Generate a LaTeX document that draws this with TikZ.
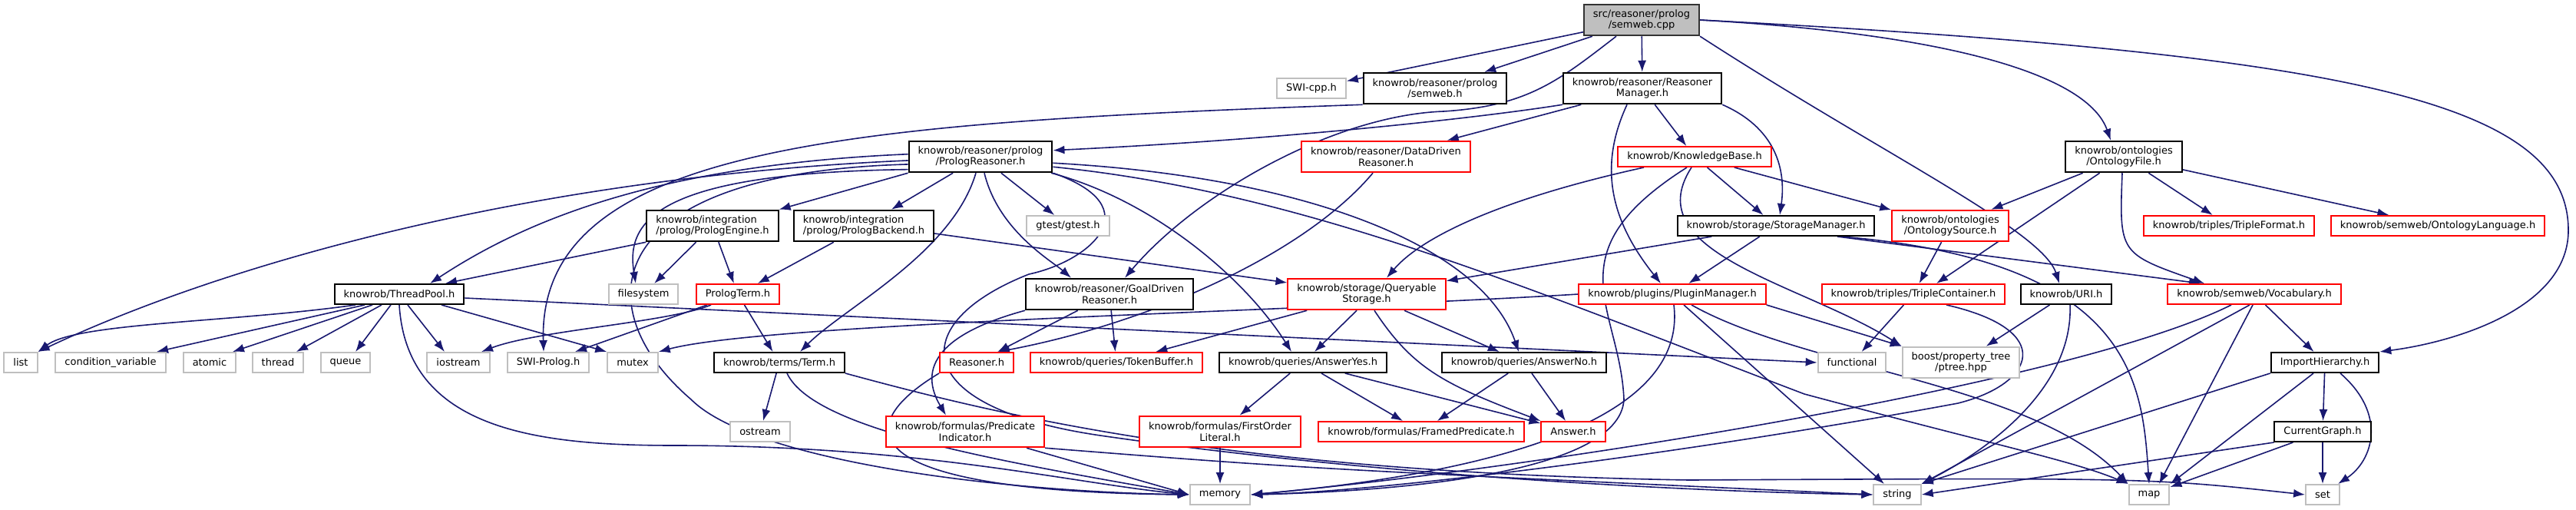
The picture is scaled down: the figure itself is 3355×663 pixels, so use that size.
\documentclass[tikz,border=0pt]{standalone}
\usepackage{fontspec}
\setmainfont{DejaVu Sans}
\usetikzlibrary{arrows.meta,backgrounds}
\definecolor{edgeblue}{HTML}{191970}
\definecolor{sysline}{HTML}{BFBFBF}
\definecolor{redline}{HTML}{FF0000}
\definecolor{rootfill}{HTML}{BFBFBF}

\begin{document}
\begin{tikzpicture}[x=0.1mm,y=-0.1mm,
      hdr/.style={draw=black,fill=white,line width=0.2mm,inner xsep=1.2mm,inner ysep=0.2mm,minimum height=2.6mm,font=\fontsize{3.7}{4.1}\selectfont,align=center},
      hdrred/.style={hdr,draw=redline},
      sys/.style={hdr,draw=sysline},
      rootfile/.style={hdr,fill=rootfill,draw=black!80},
      two/.style={minimum height=4.05mm},
      dep/.style={-{Latex[length=1.5mm,width=1.1mm]},line width=0.16mm,color=edgeblue}
    ]
      \useasboundingbox (0,0) rectangle (3355,663);
      \node[rootfile,two] (root) at (2138,26) {src/reasoner/prolog\\/semweb.cpp};
      \node[sys] (swicpp) at (1708,115) {SWI-cpp.h};
      \node[hdr,two] (semwebh) at (1869,115) {knowrob/reasoner/prolog\\/semweb.h};
      \node[hdr,two] (rmgr) at (2139,115) {knowrob/reasoner/Reasoner\\Manager.h};
      \node[hdr,two] (preason) at (1277,204) {knowrob/reasoner/prolog\\/PrologReasoner.h};
      \node[hdrred,two] (ddr) at (1805,204) {knowrob/reasoner/DataDriven\\Reasoner.h};
      \node[hdrred] (kb) at (2207,204) {knowrob/KnowledgeBase.h};
      \node[hdr,two] (ofile) at (2766,204) {knowrob/ontologies\\/OntologyFile.h};
      \node[hdr,two,align=left] (pengine) at (928,294) {knowrob/integration\\/prolog/PrologEngine.h};
      \node[hdr,two,align=left] (pbackend) at (1125,294) {knowrob/integration\\/prolog/PrologBackend.h};
      \node[sys] (gtest) at (1391,294) {gtest/gtest.h};
      \node[hdr] (smgr) at (2313,294) {knowrob/storage/StorageManager.h};
      \node[hdrred,two] (osource) at (2540,294) {knowrob/ontologies\\/OntologySource.h};
      \node[hdrred] (tformat) at (2903,294) {knowrob/triples/TripleFormat.h};
      \node[hdrred] (olang) at (3175,294) {knowrob/semweb/OntologyLanguage.h};
      \node[hdr] (threadpool) at (520,383) {knowrob/ThreadPool.h};
      \node[sys] (filesystem) at (838,383) {filesystem};
      \node[hdrred] (pterm) at (961,383) {PrologTerm.h};
      \node[hdr,two] (goal) at (1445,383) {knowrob/reasoner/GoalDriven\\Reasoner.h};
      \node[hdrred,two] (qstorage) at (1780,383) {knowrob/storage/Queryable\\Storage.h};
      \node[hdrred] (pmgr) at (2178,383) {knowrob/plugins/PluginManager.h};
      \node[hdrred] (tcont) at (2492,383) {knowrob/triples/TripleContainer.h};
      \node[hdr] (uri) at (2691,383) {knowrob/URI.h};
      \node[hdrred] (vocab) at (2936,383) {knowrob/semweb/Vocabulary.h};
      \node[sys] (list) at (27,472) {list};
      \node[sys] (condvar) at (144,472) {condition\_variable};
      \node[sys] (atomic) at (273,472) {atomic};
      \node[sys] (thread) at (362,472) {thread};
      \node[sys] (queue) at (450,472) {queue};
      \node[sys] (iostream) at (597,472) {iostream};
      \node[sys] (swipl) at (714,472) {SWI-Prolog.h};
      \node[sys] (mutex) at (824,472) {mutex};
      \node[hdr] (term) at (1015,472) {knowrob/terms/Term.h};
      \node[hdrred] (reasonerh) at (1272,472) {Reasoner.h};
      \node[hdrred] (tokbuf) at (1454,472) {knowrob/queries/TokenBuffer.h};
      \node[hdr] (ansyes) at (1697,472) {knowrob/queries/AnswerYes.h};
      \node[hdr] (ansno) at (1985,472) {knowrob/queries/AnswerNo.h};
      \node[sys] (functional) at (2412,472) {functional};
      \node[sys,two] (boost) at (2554,472) {boost/property\_tree\\/ptree.hpp};
      \node[hdr] (imphier) at (3028,472) {ImportHierarchy.h};
      \node[sys] (ostream) at (990,562) {ostream};
      \node[hdrred,two] (predind) at (1257,562) {knowrob/formulas/Predicate\\Indicator.h};
      \node[hdrred,two] (folit) at (1589,562) {knowrob/formulas/FirstOrder\\Literal.h};
      \node[hdrred] (framed) at (1851,562) {knowrob/formulas/FramedPredicate.h};
      \node[hdrred] (answer) at (2049,562) {Answer.h};
      \node[hdr] (curgraph) at (3025,562) {CurrentGraph.h};
      \node[sys] (memory) at (1589,644) {memory};
      \node[sys] (string) at (2471,644) {string};
      \node[sys] (map) at (2799,644) {map};
      \node[sys] (set) at (3025,644) {set};
      \begin{scope}[on background layer]
      \draw[dep] (root) -- (swicpp);
      \draw[dep] (root) -- (semwebh);
      \draw[dep] (root) -- (rmgr);
      \draw[dep] ([xshift=-3.3mm]root.south) .. controls (2030,105) and (1990,138) .. (1880,145) .. controls (1740,150) and (1560,250) .. ([xshift=2mm]goal.north);
      \draw[dep] (root.south east) .. controls (2450,200) and (2660,300) .. ([xshift=-0.9mm]uri.north);
      \draw[dep] (root.east) .. controls (2550,45) and (2720,100) .. ([xshift=-1.7mm]ofile.north);
      \draw[dep] (root.east) .. controls (3050,70) and (3345,130) .. (3345,300) .. controls (3345,400) and (3200,445) .. (imphier.north east);
      \draw[dep] (semwebh.south west) .. controls (1100,160) and (700,190) .. ([xshift=-0.6mm]swipl.north);
      \draw[dep] (rmgr.south west) .. controls (1950,150) and (1700,180) .. (preason.5);
      \draw[dep] (rmgr) -- (ddr);
      \draw[dep] (rmgr) -- (kb);
      \draw[dep] (rmgr.south east) .. controls (2320,170) and (2325,230) .. ([xshift=0.5mm]smgr.north);
      \draw[dep] ([xshift=-2mm]rmgr.south) .. controls (2080,220) and (2100,290) .. ([xshift=-1.5mm]pmgr.north);
      \draw[dep] (preason.south west) -- (pengine.north east);
      \draw[dep] (preason) -- (pbackend);
      \draw[dep] (preason) -- (gtest);
      \draw[dep] ([xshift=0.5mm]preason.south) .. controls (1300,300) and (1370,340) .. ([xshift=-5mm]goal.north);
      \draw[dep] ([xshift=-0.6mm]preason.south) .. controls (1240,330) and (1100,400) .. ([xshift=2.7mm]term.north);
      \draw[dep] (preason.178) .. controls (850,215) and (680,290) .. ([xshift=4mm]threadpool.north);
      \draw[dep] (preason.183) .. controls (700,230) and (300,340) .. (list.north east);
      \draw[dep] (preason.186) .. controls (780,225) and (760,400) .. (900,520) .. controls (980,600) and (1300,640) .. (memory.west);
      \draw[dep] (preason.190) .. controls (850,225) and (815,290) .. ([xshift=-1mm]filesystem.north);
      \draw[dep] (preason.-13) .. controls (1500,260) and (1620,360) .. ([xshift=-1.5mm]ansyes.north);
      \draw[dep] (preason.-5) .. controls (1700,230) and (1930,320) .. ([xshift=-0.7mm]ansno.north);
      \draw[dep] (preason.-8) .. controls (1700,250) and (2000,380) .. (2350,513) .. controls (2600,580) and (2700,600) .. (map.north west);
      \draw[dep] (preason.south east) .. controls (1500,270) and (1420,340) .. (1340,357) .. controls (1180,420) and (1180,530) .. (1433,567) .. controls (1800,620) and (2200,640) .. (string.west);
      \draw[dep] (pengine.south west) -- ([xshift=6mm]threadpool.north);
      \draw[dep] (pengine) -- (filesystem);
      \draw[dep] (pengine) -- (pterm);
      \draw[dep] (pbackend) -- (pterm);
      \draw[dep] ([yshift=-1mm]pbackend.east) -- ([yshift=1.5mm]qstorage.west);
      \draw[dep] ([xshift=-1.7mm]ddr.south) .. controls (1700,330) and (1500,420) .. ([xshift=2.8mm]reasonerh.north);
      \draw[dep] ([xshift=-6.6mm]kb.south) .. controls (1950,260) and (1850,310) .. ([xshift=2.6mm]qstorage.north);
      \draw[dep] ([xshift=-1mm]kb.south) .. controls (2020,330) and (2110,400) .. (2115,520) .. controls (2110,620) and (1800,640) .. (memory.east);
      \draw[dep] ([xshift=-0.4mm]kb.south) .. controls (2130,330) and (2350,370) .. (boost.north west);
      \draw[dep] (kb) -- (smgr);
      \draw[dep] (kb) -- (osource);
      \draw[dep] (smgr) -- (qstorage);
      \draw[dep] (smgr) -- (pmgr);
      \draw[dep] ([xshift=8mm]smgr.south) -- ([xshift=-7mm]vocab.north);
      \draw[dep] ([xshift=8.5mm]smgr.south) .. controls (2780,340) and (2790,500) .. (map.north);
      \draw[dep] (osource) -- (tcont);
      \draw[dep] (ofile) -- (osource);
      \draw[dep] (ofile) -- ([xshift=3mm]tcont.north);
      \draw[dep] ([xshift=-0.2mm]ofile.south) .. controls (2760,330) .. ([xshift=-6.5mm]vocab.north);
      \draw[dep] (ofile) -- (tformat);
      \draw[dep] (ofile) -- (olang);
      \draw[dep] (pmgr.west) .. controls (1700,405) and (1000,420) .. (mutex.north east);
      \draw[dep] ([xshift=0.2mm]pmgr.south) .. controls (2200,560) and (1900,620) .. (memory.east);
      \draw[dep] (pmgr.south east) -- (boost.north west);
      \draw[dep] ([xshift=1.5mm]pmgr.south) -- ([xshift=-1.7mm]string.north);
      \draw[dep] ([xshift=2.5mm]pmgr.south) .. controls (2350,480) and (2650,500) .. (map.north west);
      \draw[dep] (tcont) -- (functional);
      \draw[dep] ([xshift=4.3mm]tcont.south) .. controls (2680,430) and (2650,500) .. (2550,525) .. controls (2200,590) and (1800,640) .. (memory.east);
      \draw[dep] (uri) -- (boost);
      \draw[dep] ([xshift=0.5mm]uri.south) .. controls (2700,500) and (2600,580) .. (string.north east);
      \draw[dep] ([xshift=-3mm]vocab.south) .. controls (2700,500) and (2000,610) .. (memory.east);
      \draw[dep] ([xshift=-0.6mm]vocab.south) -- (string.north east);
      \draw[dep] ([xshift=-0.2mm]vocab.south) -- ([xshift=1.3mm]map.north);
      \draw[dep] (vocab) -- (imphier);
      \draw[dep] (imphier) -- (curgraph);
      \draw[dep] (imphier.south west) -- (string.north east);
      \draw[dep] ([xshift=-1.5mm]imphier.south) -- (map.north east);
      \draw[dep] ([xshift=2mm]imphier.south) .. controls (3110,540) and (3090,600) .. ([xshift=2mm]set.north);
      \draw[dep] (curgraph.south west) -- (string.east);
      \draw[dep] (curgraph) -- (map);
      \draw[dep] (curgraph) -- (set);
      \draw[dep] (qstorage) -- (tokbuf);
      \draw[dep] ([xshift=-1.3mm]qstorage.south) -- ([xshift=1.5mm]ansyes.north);
      \draw[dep] (qstorage) -- (ansno);
      \draw[dep] ([xshift=1mm]qstorage.south) .. controls (1840,480) and (1880,500) .. (answer.north west);
      \draw[dep] (goal) -- (reasonerh);
      \draw[dep] (goal) -- (tokbuf);
      \draw[dep] (goal.south west) .. controls (1240,430) and (1190,470) .. ([xshift=-2.5mm]predind.north);
      \draw[dep] ([xshift=-3.5mm]pterm.south) .. controls (870,420) and (700,430) .. ([xshift=3mm]iostream.north);
      \draw[dep] ([xshift=-4mm]pterm.south) -- ([xshift=3.5mm]swipl.north);
      \draw[dep] (pterm) -- (term);
      \draw[dep] ([xshift=-5.7mm]threadpool.south) .. controls (300,420) and (100,420) .. (list.north east);
      \draw[dep] ([xshift=-4.5mm]threadpool.south) -- ([xshift=6mm]condvar.north);
      \draw[dep] ([xshift=-3.5mm]threadpool.south) -- ([xshift=3mm]atomic.north);
      \draw[dep] ([xshift=-2.3mm]threadpool.south) -- ([xshift=2.4mm]thread.north);
      \draw[dep] ([xshift=-1.1mm]threadpool.south) -- ([xshift=1.3mm]queue.north);
      \draw[dep] ([xshift=1.1mm]threadpool.south) -- ([xshift=-1.8mm]iostream.north);
      \draw[dep] ([xshift=5.5mm]threadpool.south) -- (mutex.north west);
      \draw[dep] (threadpool.south) .. controls (530,560) and (700,580) .. (880,580) .. controls (1200,580) and (1400,630) .. (memory.west);
      \draw[dep] ([yshift=-0.5mm]threadpool.east) -- (functional.west);
      \draw[dep] (term) -- (ostream);
      \draw[dep] ([xshift=1mm]term.south) .. controls (1060,560) and (1300,600) .. (memory.west);
      \draw[dep] (term.south east) .. controls (1300,540) and (1600,615) .. (2200,625) .. controls (2800,622) .. (set.west);
      \draw[dep] (ansyes) -- (folit);
      \draw[dep] (ansyes) -- (framed);
      \draw[dep] (ansyes) -- (answer);
      \draw[dep] (ansno) -- (framed);
      \draw[dep] (ansno) -- (answer);
      \draw[dep] (reasonerh.south west) .. controls (1100,560) and (1120,640) .. (memory.west);
      \draw[dep] ([xshift=8mm]predind.south) -- (memory.west);
      \draw[dep] (predind.south east) .. controls (1700,610) .. (string.west);
      \draw[dep] (folit) -- (memory);
      \end{scope}
    \end{tikzpicture}
\end{document}
